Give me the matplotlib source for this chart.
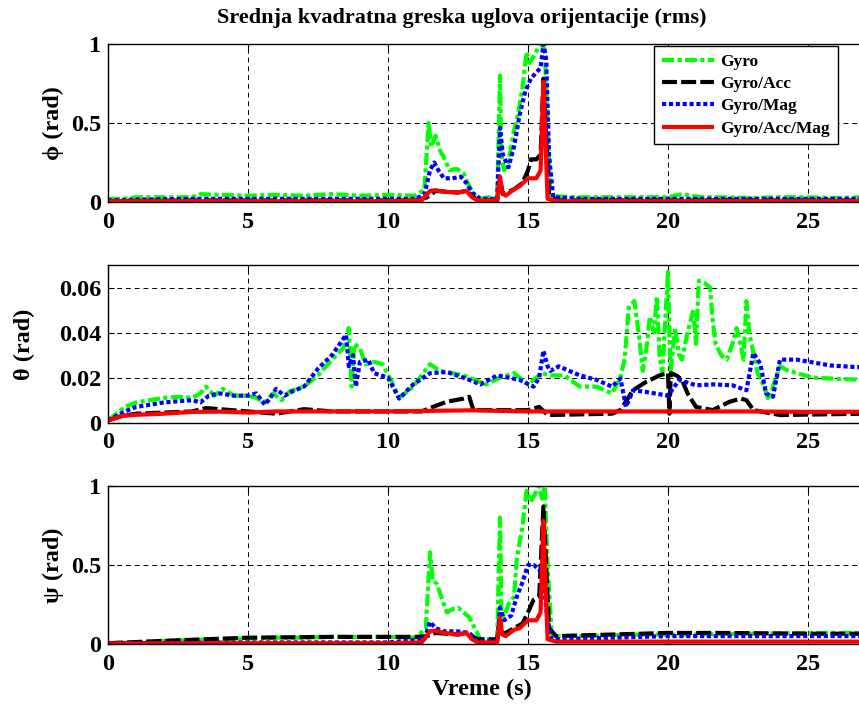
import matplotlib
matplotlib.use("Agg")
import matplotlib.pyplot as plt
import numpy as np

plt.rcParams['font.family'] = ['Liberation Serif', 'DejaVu Serif']
plt.rcParams['font.weight'] = 'bold'

series_names = ["Gyro", "Gyro/Acc", "Gyro/Mag", "Gyro/Acc/Mag"]
x_ticks = [0, 5, 10, 15, 20, 25]
x_tick_labels = ["0", "5", "10", "15", "20", "25"]

# ---------------- phi (roll) ----------------
phi_gyro_t = [0, 0.5, 1, 2, 3, 3.3, 4, 5, 6, 7, 8, 9, 10, 11, 11.3, 11.45, 11.55, 11.7, 11.85, 12.0, 12.2,
              12.45, 12.7, 12.9, 13.1, 13.3, 13.6, 13.9, 14.0, 14.05, 14.15, 14.3, 14.5, 14.65, 14.8, 14.95,
              15.05, 15.2, 15.35, 15.5, 15.6, 15.7, 15.8, 16.5, 18, 19, 20, 20.5, 20.8, 21.2, 22, 23, 24,
              25, 26, 27, 28, 30]
phi_gyro_v = [0.02, 0.02, 0.03, 0.03, 0.03, 0.05, 0.045, 0.04, 0.045, 0.04, 0.05, 0.04, 0.045, 0.04, 0.08,
              0.5, 0.35, 0.42, 0.33, 0.28, 0.2, 0.21, 0.18, 0.1, 0.04, 0.02, 0.03, 0.02, 0.8, 0.3, 0.2, 0.25,
              0.45, 0.56, 0.72, 0.95, 0.88, 0.92, 0.97, 1.0, 0.96, 0.5, 0.04, 0.03, 0.03, 0.03, 0.03, 0.05,
              0.04, 0.03, 0.03, 0.025, 0.03, 0.03, 0.025, 0.03, 0.03, 0.03]
phi_acc_t = [0, 3, 8, 11, 11.4, 11.7, 12.5, 12.8, 13.2, 13.9, 14.0, 14.1, 14.5, 14.8, 15.0, 15.1, 15.3,
             15.45, 15.55, 15.65, 15.75, 16, 20, 30]
phi_acc_v = [0.005, 0.01, 0.01, 0.01, 0.03, 0.07, 0.06, 0.07, 0.01, 0.01, 0.15, 0.05, 0.08, 0.12, 0.2,
             0.27, 0.27, 0.3, 0.78, 0.4, 0.05, 0.01, 0.01, 0.01]
phi_mag_t = [0, 1, 3, 5, 8, 10, 11, 11.3, 11.5, 11.65, 11.8, 12.0, 12.3, 12.6, 12.8, 13.0, 13.3, 13.9,
             14.0, 14.1, 14.3, 14.5, 14.7, 14.9, 15.1, 15.3, 15.45, 15.55, 15.65, 15.75, 15.9, 17, 20, 25, 30]
phi_mag_v = [0.01, 0.015, 0.02, 0.02, 0.02, 0.02, 0.02, 0.05, 0.2, 0.25, 0.2, 0.15, 0.15, 0.16, 0.12,
             0.06, 0.02, 0.02, 0.47, 0.3, 0.22, 0.35, 0.55, 0.7, 0.78, 0.82, 0.85, 1.0, 0.9, 0.3, 0.03,
             0.02, 0.02, 0.02, 0.02]
phi_all_t = [0, 5, 10, 11.2, 11.5, 11.7, 12.0, 12.5, 12.8, 13.0, 13.2, 13.9, 14.0, 14.08, 14.2, 14.5,
             14.7, 15.0, 15.3, 15.45, 15.55, 15.62, 15.7, 16, 30]
phi_all_v = [0.005, 0.005, 0.005, 0.01, 0.07, 0.075, 0.065, 0.06, 0.07, 0.03, 0.01, 0.01, 0.16, 0.06,
             0.04, 0.08, 0.1, 0.15, 0.15, 0.2, 0.76, 0.4, 0.02, 0.005, 0.005]

# ---------------- theta (pitch) ----------------
theta_gyro_t = [0, 0.3, 0.6, 1.0, 1.5, 2.0, 2.5, 3.0, 3.3, 3.5, 3.8, 4.1, 4.5, 5.0, 5.3, 5.6, 5.9, 6.2,
                6.5, 7.0, 7.5, 8.0, 8.4, 8.6, 8.7, 8.8, 9.0, 9.2, 9.5, 9.8, 10.1, 10.4, 10.9, 11.5, 11.85,
                12.3, 12.7, 13.1, 13.5, 14.0, 14.5, 15.0, 15.5, 15.8, 16.3, 16.85, 17.45, 18.0, 18.3, 18.45,
                18.6, 18.8, 18.95, 19.1, 19.25, 19.35, 19.5, 19.6, 19.7, 19.8, 19.9, 20.0, 20.05, 20.1,
                20.25, 20.4, 20.5, 20.7, 20.9, 21.0, 21.1, 21.3, 21.5, 21.6, 21.7, 21.9, 22.1, 22.3, 22.45,
                22.6, 22.7, 22.8, 22.9, 23.05, 23.2, 23.4, 23.6, 23.8, 24.0, 24.3, 24.6, 25.2, 26.0, 27, 30]
theta_gyro_v = [0.001, 0.004, 0.007, 0.009, 0.010, 0.011, 0.0115, 0.011, 0.013, 0.016, 0.012, 0.015, 0.012,
                0.012, 0.011, 0.009, 0.013, 0.010, 0.014, 0.016, 0.021, 0.028, 0.033, 0.042, 0.016, 0.035,
                0.033, 0.026, 0.027, 0.026, 0.019, 0.011, 0.016, 0.026, 0.023, 0.022, 0.021, 0.019, 0.017,
                0.02, 0.022, 0.017, 0.022, 0.021, 0.021, 0.016, 0.016, 0.013, 0.02, 0.028, 0.051, 0.054,
                0.04, 0.023, 0.035, 0.047, 0.04, 0.056, 0.03, 0.022, 0.045, 0.067, 0.04, 0.023, 0.042, 0.03,
                0.028, 0.04, 0.05, 0.035, 0.063, 0.062, 0.06, 0.045, 0.035, 0.03, 0.028, 0.035, 0.042, 0.034,
                0.028, 0.054, 0.04, 0.031, 0.022, 0.017, 0.010, 0.018, 0.025, 0.023, 0.022, 0.020, 0.0195,
                0.019, 0.019]
theta_acc_t = [0, 0.5, 1, 2, 3, 3.5, 4, 5, 6, 7, 8, 9, 10, 11.2, 11.6, 12.1, 12.7, 12.9, 13.05, 15.0,
               15.4, 15.7, 18.0, 18.3, 18.75, 19.2, 19.7, 20.0, 20.05, 20.1, 20.3, 20.5, 20.7, 21.0, 21.6,
               22.2, 22.6, 22.8, 23.05, 24, 27, 30]
theta_acc_v = [0.001, 0.003, 0.004, 0.0045, 0.005, 0.0065, 0.006, 0.005, 0.004, 0.006, 0.005, 0.005,
               0.005, 0.005, 0.007, 0.0093, 0.0107, 0.0115, 0.0056, 0.0056, 0.007, 0.0034, 0.004, 0.0056,
               0.0144, 0.018, 0.021, 0.022, 0.004, 0.022, 0.021, 0.019, 0.013, 0.007, 0.0056, 0.0093,
               0.0107, 0.010, 0.0056, 0.0034, 0.004, 0.004]
theta_mag_t = [0, 0.3, 0.6, 1.0, 1.5, 2.0, 2.5, 3.0, 3.3, 3.6, 4.0, 4.5, 5.0, 5.3, 5.6, 5.8, 6.0, 6.3, 6.6,
               7.0, 7.5, 8.0, 8.5, 8.6, 8.75, 8.85, 9.0, 9.3, 9.5, 10.0, 10.4, 10.9, 11.5, 12.1, 12.7, 13.3,
               13.9, 14.7, 15.2, 15.4, 15.55, 15.7, 15.8, 16.1, 16.85, 17.45, 18.0, 18.3, 18.5, 18.75, 19.2,
               20.0, 20.4, 21.0, 21.6, 22.3, 22.8, 23.05, 23.3, 23.5, 23.75, 24.0, 24.6, 25.8, 26.7, 30]
theta_mag_v = [0.001, 0.003, 0.005, 0.007, 0.008, 0.009, 0.0095, 0.01, 0.009, 0.012, 0.013, 0.012, 0.012,
               0.013, 0.008, 0.011, 0.015, 0.012, 0.014, 0.016, 0.024, 0.03, 0.039, 0.025, 0.03, 0.016,
               0.027, 0.028, 0.022, 0.02, 0.0107, 0.017, 0.022, 0.0225, 0.020, 0.017, 0.021, 0.019, 0.016,
               0.02, 0.032, 0.025, 0.023, 0.025, 0.021, 0.019, 0.016, 0.0196, 0.007, 0.0144, 0.0137,
               0.012, 0.019, 0.0166, 0.017, 0.0166, 0.0144, 0.031, 0.026, 0.013, 0.0115, 0.028, 0.028,
               0.0254, 0.0247, 0.024]
theta_all_t = [0, 0.5, 1, 2, 3, 4, 5, 6, 8, 10, 13, 15, 18, 20, 23, 25, 30]
theta_all_v = [0.001, 0.003, 0.0035, 0.004, 0.0048, 0.0049, 0.0045, 0.005, 0.005, 0.005, 0.0055, 0.005,
               0.005, 0.005, 0.005, 0.0048, 0.005]

# ---------------- psi (yaw) ----------------
psi_gyro_t = [0, 1, 2, 3, 4, 5, 6, 7, 8, 9, 10, 11, 11.35, 11.5, 11.6, 11.75, 11.9, 12.1, 12.3, 12.5,
              12.7, 12.9, 13.1, 13.3, 13.9, 14.0, 14.05, 14.15, 14.3, 14.5, 14.6, 14.8, 14.95, 15.1, 15.25,
              15.4, 15.5, 15.6, 15.7, 15.85, 17, 19, 21, 23, 25, 27, 30]
psi_gyro_v = [0.005, 0.01, 0.02, 0.025, 0.03, 0.035, 0.04, 0.04, 0.045, 0.045, 0.045, 0.04, 0.1, 0.58,
              0.4, 0.38, 0.3, 0.2, 0.22, 0.23, 0.2, 0.17, 0.1, 0.03, 0.03, 0.8, 0.2, 0.17, 0.25, 0.3, 0.54,
              0.74, 0.97, 0.9, 0.95, 1.0, 0.92, 1.0, 0.5, 0.05, 0.05, 0.06, 0.06, 0.065, 0.07, 0.07, 0.07]
psi_acc_t = [0, 2, 5, 8, 10, 11, 11.4, 11.7, 12.5, 12.8, 13.2, 13.9, 14.0, 14.1, 14.5, 14.8, 15.0, 15.2,
             15.4, 15.55, 15.65, 15.75, 16, 18, 20, 22, 25, 30]
psi_acc_v = [0.005, 0.02, 0.04, 0.045, 0.045, 0.045, 0.05, 0.07, 0.06, 0.07, 0.03, 0.03, 0.15, 0.06, 0.1,
             0.13, 0.2, 0.28, 0.3, 0.87, 0.5, 0.1, 0.05, 0.06, 0.07, 0.07, 0.065, 0.065]
psi_mag_t = [0, 5, 10, 11.3, 11.5, 11.7, 12.0, 12.5, 12.9, 13.2, 13.9, 14.0, 14.15, 14.4, 14.6, 14.8,
             15.0, 15.2, 15.35, 15.45, 15.55, 15.7, 15.85, 18, 20, 25, 30]
psi_mag_v = [0.005, 0.01, 0.01, 0.03, 0.14, 0.1, 0.08, 0.08, 0.07, 0.02, 0.02, 0.23, 0.15, 0.18, 0.3,
             0.39, 0.5, 0.5, 0.48, 0.46, 0.4, 0.15, 0.03, 0.04, 0.05, 0.05, 0.05]
psi_all_t = [0, 5, 10, 11.2, 11.5, 11.7, 12.0, 12.5, 12.8, 13.0, 13.2, 13.9, 14.0, 14.08, 14.2, 14.5,
             14.7, 15.0, 15.3, 15.45, 15.55, 15.62, 15.7, 16, 30]
psi_all_v = [0.003, 0.005, 0.005, 0.01, 0.08, 0.085, 0.07, 0.06, 0.07, 0.03, 0.01, 0.01, 0.17, 0.06,
             0.05, 0.09, 0.1, 0.15, 0.15, 0.2, 0.78, 0.4, 0.03, 0.015, 0.015]

colors = ['#00ff00', '#000000', '#0000ff', '#ff0000']
styles = [(0, (2.9, 0.8, 1.0, 0.8)), (0, (3.6, 1.0)), (0, (1.0, 0.65)), '-']

W, H = 859, 704
fig = plt.figure(figsize=(W / 100, H / 100), dpi=100)

left = 108 / W
width = 840 / W
panels = [
    dict(top=44, bottom=202,
         data=[(phi_gyro_t, phi_gyro_v), (phi_acc_t, phi_acc_v), (phi_mag_t, phi_mag_v), (phi_all_t, phi_all_v)],
         ylim=(0, 1), yticks=[0, 0.5, 1], ylabels=["0", "0.5", "1"], label="\u03d5 (rad)", lx=64),
    dict(top=265, bottom=422.7,
         data=[(theta_gyro_t, theta_gyro_v), (theta_acc_t, theta_acc_v), (theta_mag_t, theta_mag_v),
               (theta_all_t, theta_all_v)],
         ylim=(0, 0.07), yticks=[0, 0.02, 0.04, 0.06], ylabels=["0", "0.02", "0.04", "0.06"],
         label="\u03b8 (rad)", lx=35),
    dict(top=486, bottom=644,
         data=[(psi_gyro_t, psi_gyro_v), (psi_acc_t, psi_acc_v), (psi_mag_t, psi_mag_v), (psi_all_t, psi_all_v)],
         ylim=(0, 1), yticks=[0, 0.5, 1], ylabels=["0", "0.5", "1"], label="\u03c8 (rad)", lx=64),
]

FS = 17.5
axes = []
for p in panels:
    ax = fig.add_axes([left, 1 - p['bottom'] / H, width, (p['bottom'] - p['top']) / H])
    lines = []
    for (t, v), c, s, name in zip(p['data'], colors, styles, series_names):
        ln, = ax.plot(t, v, color=c, linestyle=s, linewidth=3, label=name, solid_capstyle='butt')
        lines.append(ln)
    ax.set_xlim(0, 30)
    ax.set_ylim(*p['ylim'])
    ax.set_xticks(x_ticks)
    ax.set_xticklabels(x_tick_labels)
    ax.set_yticks(p['yticks'])
    ax.set_yticklabels(p['ylabels'])
    ax.grid(True, color='black', linestyle=(0, (5, 4)), linewidth=0.7)
    ax.set_axisbelow(True)
    ax.tick_params(direction='in', length=4, width=0.8, top=True, right=True, labelsize=FS)
    ax.tick_params(axis='x', pad=7)
    ax.tick_params(axis='y', pad=5)
    for lab in ax.get_xticklabels() + ax.get_yticklabels():
        lab.set_fontweight('bold')
    for sp in ax.spines.values():
        sp.set_linewidth(1.0)
    ax.set_ylabel(p['label'], fontsize=FS, fontweight='bold')
    ax.yaxis.set_label_coords((p['lx'] - 108) / 840, 0.5)
    axes.append((ax, lines))

ax1, lines1 = axes[0]
leg = fig.legend(lines1, series_names, loc='upper right', bbox_to_anchor=(838 / W, 1 - 46 / H),
                 prop={'weight': 'bold', 'size': 12.5}, frameon=True, fancybox=False,
                 edgecolor='black', framealpha=1, handlelength=3.0, labelspacing=0.35, borderpad=0.45,
                 handletextpad=0.4, borderaxespad=0)
leg.get_frame().set_linewidth(1.0)

fig.text(462 / W, 1 - 18 / H, "Srednja kvadratna greska uglova orijentacije (rms)",
         ha='center', va='center', fontsize=16, fontweight='bold')
fig.text(482 / W, 1 - 689 / H, "Vreme (s)", ha='center', va='center', fontsize=FS, fontweight='bold')

fig.savefig("out.png", dpi=100)
